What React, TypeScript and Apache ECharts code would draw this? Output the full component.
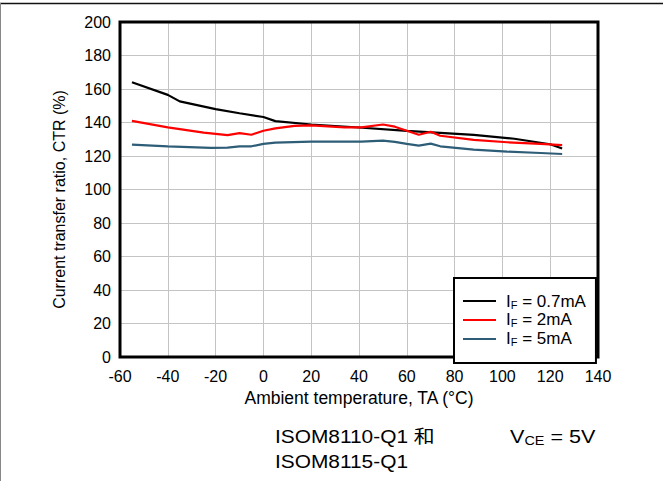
import React, { useEffect, useRef } from "react";
import * as echarts from "echarts";

const seriesNames = ["0.7mA", "2mA", "5mA"];
const seriesColors = ["#000000", "#ff0000", "#2e5d78"];

const tempBlack = [-55, -40, -35, -20, -10, 0, 5, 20, 40, 60, 88, 105, 120, 125];
const ctrBlack = [164, 156.5, 152.6, 148, 145.5, 143.3, 140.8, 138.8, 137, 135, 132.6, 130.3, 127, 124.5];

const tempRed = [-55, -40, -25, -15, -10, -5, 0, 5, 13, 20, 34, 41, 50, 55, 60, 65, 70, 74, 88, 102, 116, 125];
const ctrRed = [141, 137.1, 134, 132.5, 133.7, 132.7, 135.1, 136.5, 138, 138.3, 137.1, 137.1, 138.8, 137.5, 135.1, 132.7, 134.5, 132.1, 129.6, 128.2, 127.2, 126.5];

const tempBlue = [-55, -40, -22, -15, -10, -5, 0, 5, 20, 41, 50, 55, 60, 65, 70, 74, 88, 102, 116, 125];
const ctrBlue = [126.8, 125.8, 124.8, 125, 125.8, 125.8, 127.2, 128, 128.6, 128.6, 129.2, 128.4, 127.2, 126.2, 127.4, 125.8, 123.8, 122.6, 121.8, 121.2];

const xTitle = "Ambient temperature, TA (°C)";
const yTitle = "Current transfer ratio, CTR (%)";
const partLine1 = "ISOM8110-Q1 和";
const partLine2 = "ISOM8115-Q1";

const FONT = "'Liberation Sans', Arial, 'Noto Sans CJK SC', sans-serif";

function pairs(xs: number[], ys: number[]) {
  return xs.map((x, i) => [x, ys[i]]);
}

export default function App() {
  const ref = useRef<HTMLDivElement>(null);
  useEffect(() => {
    if (!ref.current) return;
    const chart = echarts.init(ref.current, undefined, { renderer: "svg" });
    const allData = [pairs(tempBlack, ctrBlack), pairs(tempRed, ctrRed), pairs(tempBlue, ctrBlue)];
    chart.setOption({
      animation: false,
      textStyle: { fontFamily: FONT },
      grid: {
        left: 120,
        top: 22,
        width: 478,
        height: 335,
        show: true,
        borderColor: "#000",
        borderWidth: 3,
        z: 3,
      },
      xAxis: {
        type: "value",
        min: -60,
        max: 140,
        interval: 20,
        name: xTitle,
        nameLocation: "middle",
        nameGap: 32,
        nameTextStyle: { fontSize: 17.5, color: "#000", fontFamily: FONT },
        axisLine: { show: false },
        axisTick: { show: false },
        axisLabel: { fontSize: 16, color: "#000", margin: 11, fontFamily: FONT },
        splitLine: { show: true, lineStyle: { color: "#c4c4c4", width: 1 } },
      },
      yAxis: {
        type: "value",
        min: 0,
        max: 200,
        interval: 20,
        name: yTitle,
        nameLocation: "middle",
        nameGap: 53,
        nameTextStyle: { fontSize: 16, color: "#000", fontFamily: FONT, padding: [0, 20, 0, 0] },
        axisLine: { show: false },
        axisTick: { show: false },
        axisLabel: { fontSize: 16, color: "#000", margin: 9, fontFamily: FONT },
        splitLine: { show: true, lineStyle: { color: "#c4c4c4", width: 1 } },
      },
      legend: {
        left: 454,
        top: 278,
        orient: "vertical",
        backgroundColor: "#fff",
        borderColor: "#000",
        borderWidth: 2,
        padding: [14, 10, 15, 8],
        itemWidth: 33,
        itemHeight: 14,
        itemGap: 1,
        z: 10,
        data: seriesNames,
        itemStyle: { opacity: 0 },
        formatter: (n: string) => `{i|I}{s|F}{t| = ${n}}`,
        textStyle: {
          fontFamily: FONT,
          padding: [0, 0, 0, 5],
          rich: {
            i: { fontSize: 17, lineHeight: 14, color: "#000", fontFamily: FONT },
            s: { fontSize: 11, lineHeight: 14, color: "#000", fontFamily: FONT, padding: [7, 0, 0, 0] },
            t: { fontSize: 17, lineHeight: 14, color: "#000", fontFamily: FONT },
          },
        },
      },
      series: seriesNames.map((n, i) => ({
        name: n,
        type: "line",
        data: allData[i],
        symbol: "none",
        lineStyle: { color: seriesColors[i], width: 2.2 },
        itemStyle: { color: seriesColors[i] },
        z: 2,
      })),
      graphic: [
        { type: "line", shape: { x1: 0, y1: 3.5, x2: 663, y2: 3.5 }, style: { stroke: "#111", lineWidth: 1.5 } },
        { type: "line", shape: { x1: 0.5, y1: 3, x2: 0.5, y2: 481 }, style: { stroke: "#888", lineWidth: 1 } },
        {
          type: "text",
          x: 275,
          y: 437,
          scaleX: 1.16,
          style: { text: partLine1, fontSize: 18, fill: "#000", fontFamily: FONT, align: "left", verticalAlign: "middle" },
        },
        {
          type: "text",
          x: 275,
          y: 462,
          scaleX: 1.16,
          style: { text: partLine2, fontSize: 18, fill: "#000", fontFamily: FONT, align: "left", verticalAlign: "middle" },
        },
        {
          type: "text",
          x: 510,
          y: 437,
          scaleX: 1.2,
          style: {
            text: "{v|V}{s|CE}{v| = 5V}",
            fontFamily: FONT,
            verticalAlign: "middle",
            rich: {
              v: { fontSize: 18, fill: "#000", fontFamily: FONT },
              s: { fontSize: 12, fill: "#000", fontFamily: FONT, padding: [8, 0, 0, 0] },
            },
          },
        },
      ],
    });
    return () => chart.dispose();
  }, []);
  return (
    <div
      ref={ref}
      style={{ position: "absolute", left: 0, top: 0, width: 663, height: 481, background: "#fff" }}
    />
  );
}
